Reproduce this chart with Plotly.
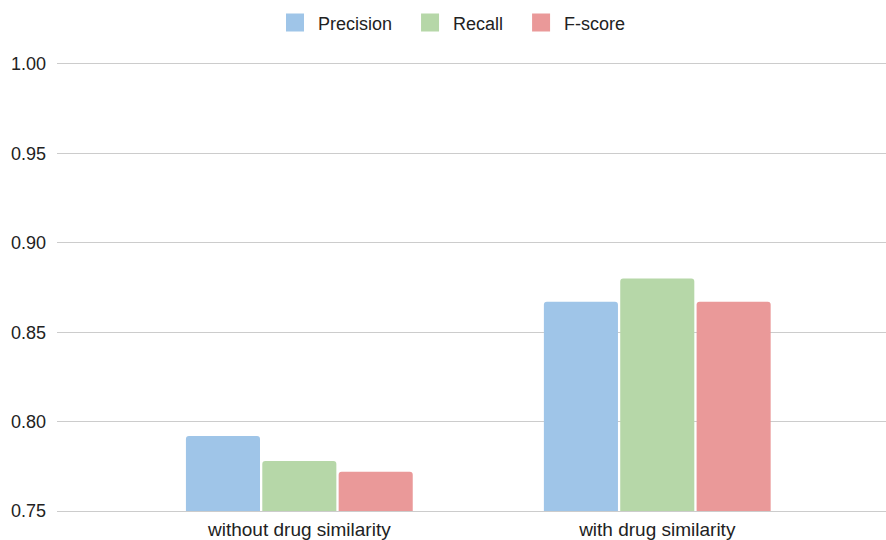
import plotly.graph_objects as go

categories = ["without drug similarity", "with drug similarity"]
precision = [0.792, 0.867]
recall = [0.778, 0.880]
f_score = [0.772, 0.867]
tick_vals = [0.75, 0.80, 0.85, 0.90, 0.95, 1.00]
tick_text = ["0.75", "0.80", "0.85", "0.90", "0.95", "1.00"]

series = [
    ("Precision", precision, "#9fc5e8"),
    ("Recall", recall, "#b6d7a8"),
    ("F-score", f_score, "#ea9999"),
]

NBSP = "\u00a0"

fig = go.Figure()
for name, vals, color in series:
    fig.add_trace(go.Bar(
        x=categories, y=vals, name=name, legendgroup=name, showlegend=False,
        marker=dict(color=color, line=dict(width=0)),
    ))
# Square legend swatches (trailing spaces widen the gap between entries)
for i, (name, vals, color) in enumerate(series):
    label = name + (NBSP * 2 if i < len(series) - 1 else "")
    fig.add_trace(go.Scatter(
        x=[None], y=[None], name=label, legendgroup=name, mode="markers",
        marker=dict(symbol="square", size=16, color=color,
                    line=dict(width=2, color=color)),
    ))

fig.update_layout(
    width=886, height=540,
    margin=dict(l=57, r=0, t=64, b=29),
    paper_bgcolor="white", plot_bgcolor="white",
    font=dict(family="Liberation Sans, Arial, sans-serif", size=16, color="#222222"),
    barmode="group", bargap=0.36, bargroupgap=0.03,
    barcornerradius=3,
    legend=dict(orientation="h", xref="container", yref="container",
                x=(286 - 14) / 886, xanchor="left", y=0.992, yanchor="top",
                font=dict(size=18), itemwidth=36, traceorder="normal"),
    xaxis=dict(range=[-0.677, 1.639], showgrid=False, automargin=False,
               showline=True, mirror=True, linecolor="#cccccc", linewidth=1,
               ticks="", tickfont=dict(size=19), ticklabelstandoff=1),
    yaxis=dict(range=[0.75, 1.0], tickvals=tick_vals, ticktext=tick_text,
               showgrid=True, gridcolor="#cccccc", gridwidth=1, automargin=False,
               zeroline=False, showline=False, ticks="",
               tickfont=dict(size=18), ticklabelstandoff=10),
)

fig.write_html("out.html")
